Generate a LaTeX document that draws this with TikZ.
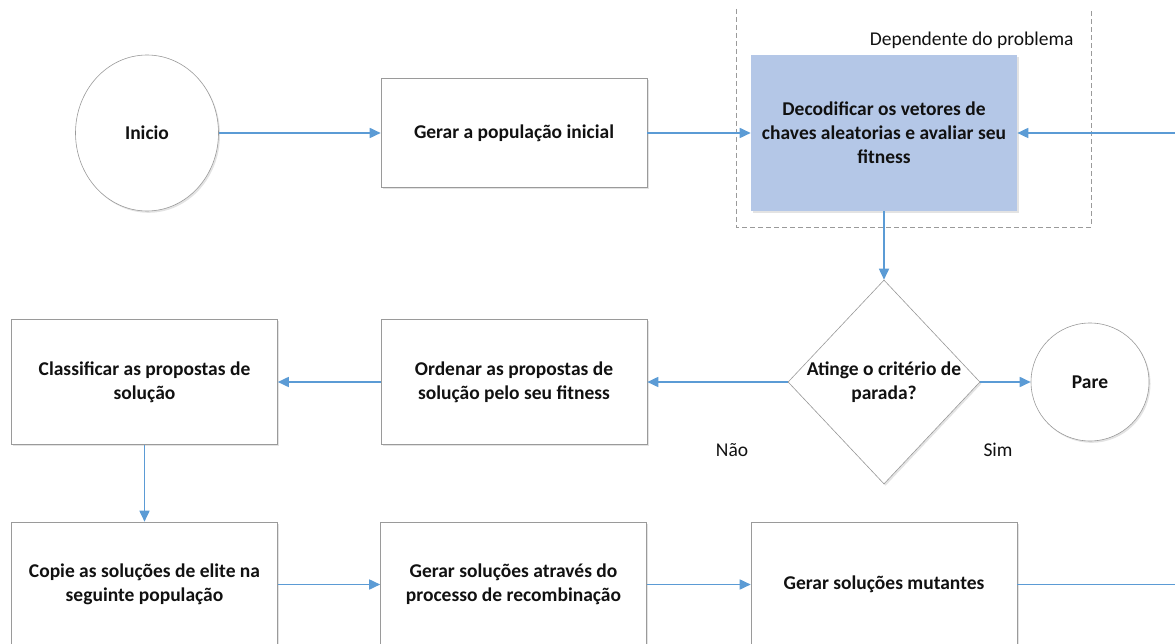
\documentclass[tikz,border=0pt]{standalone}
\usepackage{fontspec}
\setmainfont{Carlito}
\usetikzlibrary{arrows.meta,shapes.geometric,shadows}
\definecolor{flow}{HTML}{5B9BD5}
\definecolor{rim}{HTML}{9A9A9A}
\definecolor{decfill}{HTML}{B4C7E7}
\definecolor{ink}{HTML}{111111}
\begin{document}
\begin{tikzpicture}[x=1pt,y=-1pt,
  soft/.style={drop shadow={shadow xshift=1.5pt,shadow yshift=-1.8pt,opacity=0.22}},
  boldtext/.style={font=\bfseries\fontsize{19.5}{24}\selectfont,text=ink,align=center},
  plaintext/.style={font=\fontsize{19.5}{22}\selectfont,text=ink},
  stepbox/.style={draw=rim,line width=0.6pt,fill=white,soft,boldtext,
    minimum width=266pt,minimum height=125pt,inner sep=0pt},
  terminal/.style={draw=rim,line width=0.6pt,fill=white,soft,boldtext,inner sep=0pt},
  flowline/.style={draw=flow,line width=1.7pt},
  flowarrow/.style={flowline,-{Triangle[length=11pt,width=10pt]}}]
\useasboundingbox (0,0) rectangle (1175,644);

% problem-dependent region (open at the top)
\draw[rim,line width=0.7pt,dash pattern=on 5pt off 3pt]
  (736,9) -- (736,227) -- (1091,227) -- (1091,9);
\node[plaintext,anchor=east] (dep) at (1077,40) {Dependente do problema};

% first row
\node[terminal,ellipse,minimum width=143pt,minimum height=156pt] (inicio) at (147,133) {Inicio};
\node[stepbox,minimum height=109pt] (gerar) at (514,133) {Gerar a população inicial};
\node[stepbox,draw=none,fill=decfill,minimum height=156pt] (decode) at (884,133)
  {Decodificar os vetores de\\chaves aleatorias e avaliar seu\\fitness};

% decision and stop
\node[draw=rim,line width=0.6pt,fill=white,soft,diamond,inner sep=0pt,
  minimum width=192pt,minimum height=204pt,
  label={[boldtext]center:Atinge o critério de\\parada?}] (crit) at (884,382) {};
\node[terminal,circle,minimum size=118pt] (pare) at (1090,382) {Pare};
\node[plaintext] (nao) at (732,450) {Não};
\node[plaintext] (sim) at (998,450) {Sim};

% second row
\node[stepbox] (ordenar) at (514,382) {Ordenar as propostas de\\solução pelo seu fitness};
\node[stepbox] (classif) at (144.5,382) {Classificar as propostas de\\solução};

% third row
\node[stepbox] (copie) at (144.5,584.5) {Copie as soluções de elite na\\seguinte população};
\node[stepbox] (recomb) at (513.5,584.5) {Gerar soluções através do\\processo de recombinação};
\node[stepbox] (mutant) at (884,584.5) {Gerar soluções mutantes};

% loop-back ends at the right border
\coordinate (backin) at (1176,133);
\coordinate (backout) at (1176,584.5);

% connectors
\draw[flowarrow] (inicio) -- (gerar);
\draw[flowarrow] (gerar) -- (decode);
\draw[flowarrow] (backin) -- (decode.east);
\draw[flowarrow] (decode) -- (crit.north);
\draw[flowarrow] (crit.east) -- (pare);
\draw[flowarrow] (crit.west) -- (ordenar.east);
\draw[flowarrow] (ordenar) -- (classif);
\draw[flowarrow] (classif) -- (copie);
\draw[flowarrow] (copie) -- (recomb);
\draw[flowarrow] (recomb) -- (mutant);
\draw[flowline] (mutant.east) -- (backout);
\end{tikzpicture}
\end{document}
